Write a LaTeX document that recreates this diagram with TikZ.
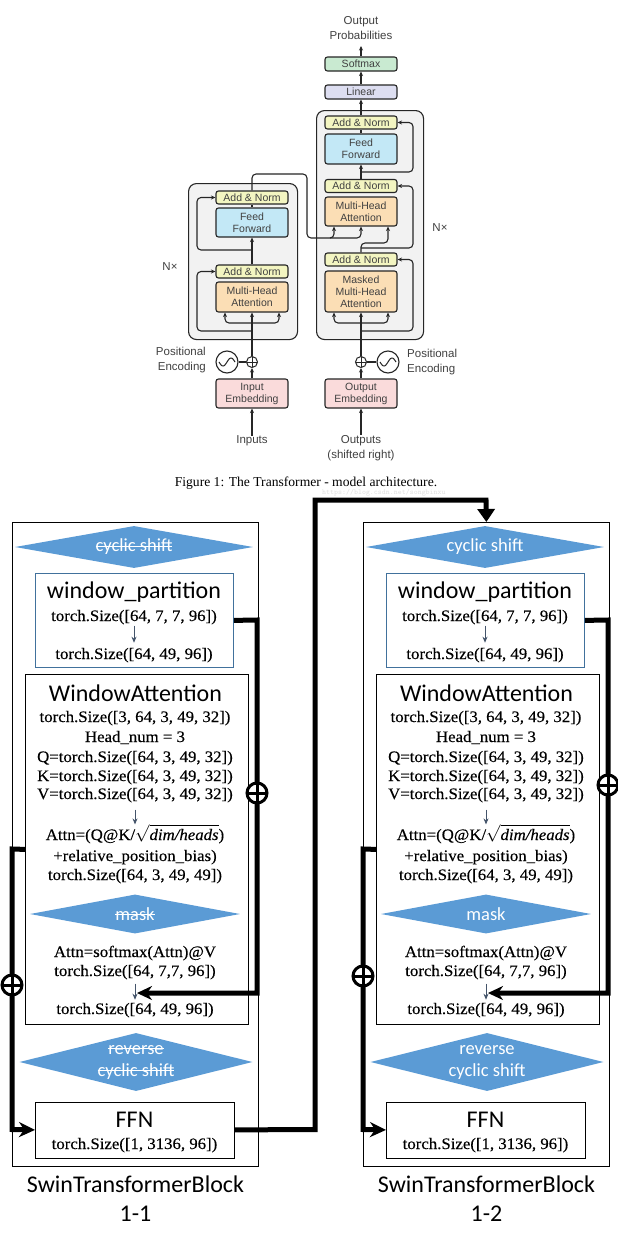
\documentclass[tikz,border=0pt]{standalone}
\usepackage{fontspec}
\usetikzlibrary{shapes.geometric,arrows.meta}
\setmainfont{Liberation Serif}
\newfontfamily\calfont{Carlito}
\newfontfamily\helfont{Liberation Sans}
\newfontfamily\cambfont[FakeStretch=1.05,FakeBold=0.3]{Liberation Serif}
\newcommand\stk[1]{\setbox0\hbox{#1}\rlap{\rule[0.27em]{\wd0}{1.3pt}}\box0}
\definecolor{sblue}{RGB}{91,155,213}
\definecolor{wpborder}{RGB}{65,113,156}
\definecolor{sarrow}{RGB}{68,84,106}
\definecolor{tgray}{RGB}{242,242,242}
\definecolor{tgreen}{RGB}{201,234,209}
\definecolor{tlav}{RGB}{221,222,241}
\definecolor{tyellow}{RGB}{243,245,193}
\definecolor{tblue}{RGB}{195,232,246}
\definecolor{torange}{RGB}{251,222,181}
\definecolor{tpink}{RGB}{250,219,219}
\definecolor{ttext}{RGB}{65,65,65}
\tikzset{
  tbox/.style={draw=black!85, line width=1.1pt, rounded corners=2.5pt, minimum width=72pt, inner sep=0pt, align=center, text=ttext, font=\helfont\fontsize{10.5}{12}\selectfont},
  tbig/.style={draw=black!85, line width=1.1pt, rounded corners=8pt, fill=tgray, inner sep=0pt},
  tline/.style={line width=1.1pt, draw=black!85, rounded corners=4pt},
  tarr/.style={tline, -{Stealth[length=4.5pt,width=4pt]}},
  ttxt/.style={text=ttext, font=\helfont\fontsize{11.5}{15}\selectfont, align=center, inner sep=0pt},
  tplus/.style={circle, draw=black!85, fill=white, line width=1pt, minimum size=11pt, inner sep=0pt,
    path picture={\draw[line width=1pt, black!85] (path picture bounding box.north) -- (path picture bounding box.south) (path picture bounding box.west) -- (path picture bounding box.east);}},
  outerbox/.style={draw=black, line width=0.8pt, inner sep=0pt},
  diab/.style={diamond, fill=sblue, inner sep=0pt, text=white, font=\calfont\fontsize{18.5}{22}\selectfont, align=center},
  wpbox/.style={draw=wpborder, line width=0.8pt, inner sep=0pt},
  wabox/.style={draw=black, line width=0.8pt, inner sep=0pt},
  ttl/.style={font=\calfont\fontsize{24}{26}\selectfont, anchor=base, inner sep=0pt},
  szt/.style={font=\cambfont\fontsize{16}{18}\selectfont, anchor=base, inner sep=0pt},
  sarr/.style={draw=sarrow, line width=0.8pt, -{Stealth[length=6pt,width=5pt]}},
  thk/.style={line width=5pt, line join=miter, line cap=butt},
  oplus/.style={circle, draw=black, fill=white, line width=3pt, minimum size=20pt, inner sep=0pt,
    path picture={\draw[line width=3pt] (path picture bounding box.north) -- (path picture bounding box.south) (path picture bounding box.west) -- (path picture bounding box.east);}},
}
\newcommand\swinblk[6]{%
\begin{scope}[xshift=#2]
\node[outerbox, minimum width=246pt, minimum height=644pt, anchor=north west] (#1out) at (12,522) {};
\node[diab, aspect=5.67, minimum width=238pt, minimum height=42pt] (#1cs) at (134,547) {#3{cyclic shift}};
\node[wpbox, minimum width=198pt, minimum height=94pt, anchor=north west] (#1wp) at (35,573) {};
\node[ttl] (#1wpt) at (134,598) {window\_partition};
\node[szt] (#1wpa) at (134,621) {torch.Size([64, 7, 7, 96])};
\node[szt] (#1wpb) at (134,659) {torch.Size([64, 49, 96])};
\draw[sarr] ([yshift=-1pt]#1wpa.south) -- ([yshift=5pt]#1wpb.north);
\node[wabox, minimum width=223pt, minimum height=350pt, anchor=north west] (#1wa) at (25,674) {};
\node[ttl] (#1wat) at (135.5,701) {WindowAttention};
\node[szt] (#1w1) at (135,722) {torch.Size([3, 64, 3, 49, 32])};
\node[szt] (#1w2) at (135,742) {Head\_num = 3};
\node[szt] (#1wq) at (135,762) {Q=torch.Size([64, 3, 49, 32])};
\node[szt] (#1wk) at (135,781) {K=torch.Size([64, 3, 49, 32])};
\node[szt] (#1wv) at (135,799) {V=torch.Size([64, 3, 49, 32])};
\node[szt] (#1at1) at (135,840) {Attn=(Q@K/$\sqrt{\hbox{\itshape dim/heads}}$)};
\node[szt] (#1at2) at (135,861) {+relative\_position\_bias)};
\node[szt] (#1at3) at (135,880) {torch.Size([64, 3, 49, 49])};
\draw[sarr] ([yshift=-7pt]#1wv.south) -- ([yshift=0pt]#1at1.north);
\node[diab, aspect=5.4, minimum width=210pt, minimum height=39pt] (#1mk) at (135,914) {#3{mask}};
\node[szt] (#1ws1) at (135,957) {Attn=softmax(Attn)@V};
\node[szt] (#1ws2) at (135,976) {torch.Size([64, 7,7, 96])};
\node[szt] (#1ws3) at (135,1014) {torch.Size([64, 49, 96])};
\draw[sarr] ([yshift=-4pt]#1ws2.south) -- ([yshift=3pt]#1ws3.north);
\node[diab, aspect=4.0, minimum width=233pt, minimum height=58pt] (#1rc) at (136,1062) {#3{reverse}\\#3{cyclic shift}};
\node[wabox, minimum width=199pt, minimum height=56pt, anchor=north west] (#1ffn) at (35,1101.5) {};
\node[ttl] (#1ffnt) at (134.5,1127) {FFN};
\node[szt] (#1ffns) at (134.5,1149) {torch.Size([1, 3136, 96])};
\node[ttl] (#1lab) at (135.5,1192) {SwinTransformerBlock};
\node[ttl] (#1num) at (135.5,1221) {#6};
\coordinate (#1tip) at (137,993);
\draw[thk, -{Stealth[length=15pt,width=14pt]}] (#1wp.east) -- (257,620) -- (257,993) -- (#1tip);
\node[oplus] (#1pr) at (257,#4) {};
\draw[thk, -{Stealth[length=16pt,width=15pt]}] (#1wa.west) -- (12,849) -- (12,1129.5) -- (#1ffn.west);
\node[oplus] (#1pl) at (12,#5) {};
\end{scope}}
\begin{document}
\begin{tikzpicture}[x=1pt,y=-1pt]
\fill[white] (0,0) rectangle (618,1242);
\useasboundingbox (0,0) rectangle (618,1242);
% ---------- Transformer figure ----------
\node[tbig, minimum width=107pt, minimum height=229pt, anchor=north west] (decbox) at (316,110) {};
\node[tbig, minimum width=109pt, minimum height=156pt, anchor=north west] (encbox) at (188,183) {};
\node[ttxt] (outp) at (361,28) {Output\\Probabilities};
\coordinate (outtip) at (361,46);
\node[tbox, fill=tgreen, minimum height=14pt] (softmax) at (361,64) {Softmax};
\node[tbox, fill=tlav, minimum height=14pt] (linear) at (361,92) {Linear};
\node[tbox, fill=tyellow, minimum height=13pt] (dan3) at (361,122.5) {Add \& Norm};
\node[tbox, fill=tblue, minimum height=30pt] (dff) at (361,149) {Feed\\Forward};
\node[tbox, fill=tyellow, minimum height=13pt] (dan2) at (361,186) {Add \& Norm};
\node[tbox, fill=torange, minimum height=29pt] (dmha) at (361,211.5) {Multi-Head\\Attention};
\node[tbox, fill=tyellow, minimum height=13pt] (dan1) at (361,259.5) {Add \& Norm};
\node[tbox, fill=torange, minimum height=41pt] (dmmha) at (361,291.5) {Masked\\Multi-Head\\Attention};
\node[tbox, fill=tyellow, minimum height=13pt] (ean2) at (252,197.5) {Add \& Norm};
\node[tbox, fill=tblue, minimum height=29pt] (eff) at (252,222.5) {Feed\\Forward};
\node[tbox, fill=tyellow, minimum height=13pt] (ean1) at (252,271.5) {Add \& Norm};
\node[tbox, fill=torange, minimum height=30pt] (emha) at (252,297) {Multi-Head\\Attention};
\node[tbox, fill=tpink, minimum height=29pt] (iemb) at (252,393.5) {Input\\Embedding};
\node[tbox, fill=tpink, minimum height=29pt] (oemb) at (361,393.5) {Output\\Embedding};
\node[tplus] (eplus) at (252,362) {};
\node[tplus] (dplus) at (361,362) {};
\node[circle, draw=black!85, line width=1.1pt, minimum size=22pt, inner sep=0pt] (esin) at (227,362) {};
\node[circle, draw=black!85, line width=1.1pt, minimum size=22pt, inner sep=0pt] (dsin) at (388,362) {};
\draw[line width=1pt, black!85] plot[domain=-8:8, samples=40, smooth] ({\x+227},{362-4*sin(\x*22.5)});
\draw[line width=1pt, black!85] plot[domain=-8:8, samples=40, smooth] ({\x+388},{362-4*sin(\x*22.5)});
\node[ttxt, align=right, anchor=east] (pel) at (206,360.5) {Positional\\Encoding};
\node[ttxt, align=left, anchor=west] (per) at (407,362.5) {Positional\\Encoding};
\node[ttxt] (inp) at (252,441) {Inputs};
\node[ttxt] (outs) at (361,448) {Outputs\\(shifted right)};
\node[ttxt] (nxl) at (170,267) {N×};
\node[ttxt] (nxr) at (440,228) {N×};
\node[font=\fontsize{13.6}{15}\selectfont, inner sep=0pt] (cap) at (306,483) {Figure 1: The Transformer - model architecture.};
\node[text=black!12, font=\ttfamily\fontsize{7.5}{8}\selectfont, inner sep=0pt, anchor=west] (wm) at (322,493) {https://blog.csdn.net/songbinxu};
% decoder connectors
\draw[tarr] (softmax.north) -- (outtip);
\draw[tarr] (linear.north) -- (softmax.south);
\draw[tarr] (dan3.north) -- (linear.south);
\draw[tline] (dff.north) -- (dan3.south);
\draw[tarr] (dan2.north) -- (dff.south);
\draw[tarr] (361,172) -- (413,172) -- (413,122.5) -- (dan3.east);
\draw[tarr] (dan1.north) -- (361,243) -- (388,243) -- ([xshift=27pt]dmha.south);
\draw[tarr] (361,248) -- (413,248) -- (413,186) -- (dan2.east);
\draw[tarr] (ean2.north) -- (252,174) -- (307,174) -- (307,238) -- (361,238) -- (dmha.south);
\draw[tarr] (330,238) -- (334,238) -- ([xshift=-27pt]dmha.south);
\draw[tarr] (oemb.north) -- (dplus.south);
\draw[tarr] (dplus.north) -- (dmmha.south);
\draw[tarr] (361,323) -- (334,323) -- ([xshift=-27pt]dmmha.south);
\draw[tarr] (361,323) -- (388,323) -- ([xshift=27pt]dmmha.south);
\draw[tarr] (361,331) -- (413,331) -- (413,259.5) -- (dan1.east);
\draw[tline] (dsin.west) -- (dplus.east);
\draw[tarr] (outs.north) -- (oemb.south);
% encoder connectors
\draw[tarr] (iemb.north) -- (eplus.south);
\draw[tarr] (eplus.north) -- (emha.south);
\draw[tarr] (252,323) -- (225,323) -- ([xshift=-27pt]emha.south);
\draw[tarr] (252,323) -- (279,323) -- ([xshift=27pt]emha.south);
\draw[tarr] (252,331) -- (197,331) -- (197,271.5) -- (ean1.west);
\draw[tarr] (ean1.north) -- (eff.south);
\draw[tline] (eff.north) -- (ean2.south);
\draw[tarr] (252,250) -- (197,250) -- (197,197.5) -- (ean2.west);
\draw[tline] (esin.east) -- (eplus.west);
\draw[tarr] (inp.north) -- (iemb.south);
% ---------- Swin blocks ----------
\swinblk{A}{0pt}{\stk}{793}{985}{1-1}
\swinblk{B}{351pt}{\relax}{785}{976}{1-2}
\draw[thk, -{Triangle[length=13pt,width=17pt]}] (Affn.east) -- (315,1129.5) -- (315,500) -- (486,500) -- (Bout.north);
\end{tikzpicture}
\end{document}
